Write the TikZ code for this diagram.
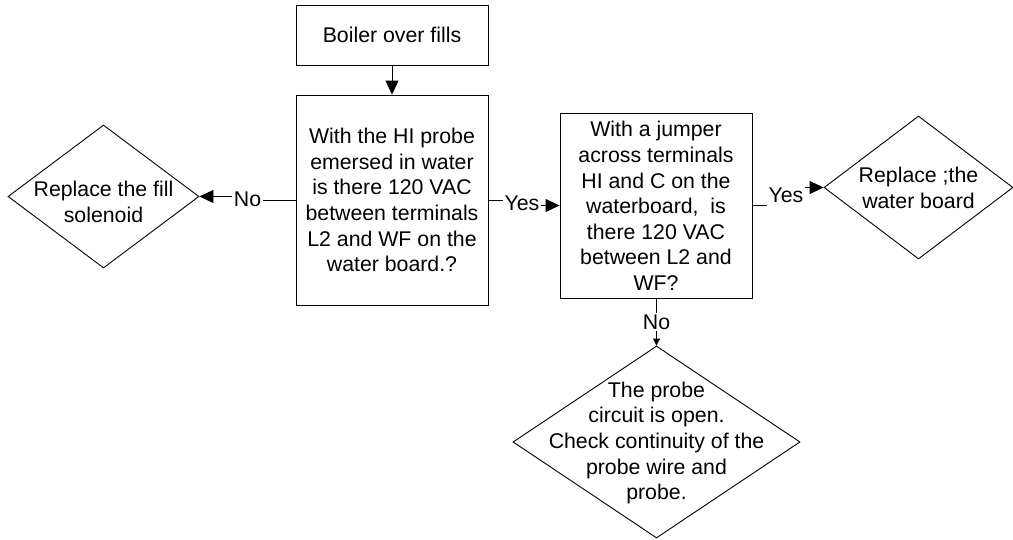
\documentclass[tikz,border=0pt]{standalone}
\usepackage{fontspec}
\setmainfont{Liberation Sans}
\usetikzlibrary{shapes.geometric,arrows.meta}
\begin{document}
\begin{tikzpicture}[x=1pt,y=-1pt,
  font=\fontsize{21.3}{25.6}\selectfont,
  box/.style={draw, line width=0.9pt, rectangle, inner sep=0pt},
  dia/.style={draw, line width=0.9pt, diamond, inner sep=0pt},
  txt/.style={align=center, inner sep=0pt},
  lab/.style={fill=white, inner sep=1.5pt},
  conn/.style={line width=0.9pt},
  arr/.style={line width=0.9pt, -{Triangle[length=14pt,width=13pt]}},
  sarr/.style={line width=0.9pt, -{Triangle[length=7pt,width=7pt]}}]
\useasboundingbox (0,0) rectangle (1013,539);

% shapes
\node[box, minimum width=192, minimum height=60] (b1) at (392,35) {Boiler over fills};
\node[box, minimum width=192, minimum height=210] (b2) at (392,200) {};
\node[txt] (t2) at (392,200) {With the HI probe\\emersed in water\\is there 120 VAC\\between terminals\\L2 and WF on the\\water board.?};
\node[box, minimum width=192, minimum height=185] (b3) at (656,205.5) {};
\node[txt] (t3) at (656,206) {With a jumper\\across terminals\\HI and C on the\\waterboard,\ \ is\\there 120 VAC\\between L2 and\\WF?};
\node[dia, minimum width=191, minimum height=143] (d1) at (103.5,196.5) {};
\node[txt] (t1) at (103.5,202) {Replace the fill\\solenoid};
\node[dia, minimum width=189, minimum height=143] (d2) at (918.5,187.5) {};
\node[txt] (td2) at (918.5,188) {Replace ;the\\water board};
\node[dia, minimum width=287, minimum height=192] (d3) at (656.5,442) {};
\node[txt] (td3) at (656.5,443) {The probe\\circuit is open.\\Check continuity of the\\probe wire and\\probe.};

% labels
\node[lab] (no1) at (247.5,199) {No};
\node[lab] (yes1) at (522,203) {Yes};
\node[lab] (yes2) at (786,195) {Yes};
\node[lab] (no2) at (656.5,322) {No};

% connectors
\draw[arr] (b1.south) -- (b2.north);
\draw[conn] (b2.west) -- (b2.west -| no1.east);
\draw[arr] (d1.east -| no1.west) -- (d1.east);
\draw[conn] (b2.east) -- (b2.east -| yes1.west);
\draw[arr] (b3.west -| yes1.east) -- (b3.west);
\draw[conn] (b3.east) -- (b3.east -| yes2.west);
\draw[arr] (d2.west -| yes2.east) -- (d2.west);
\draw[conn] (b3.south) -- (b3.south |- no2.north);
\draw[sarr] (no2.south -| d3.north) -- (d3.north);
\end{tikzpicture}
\end{document}
